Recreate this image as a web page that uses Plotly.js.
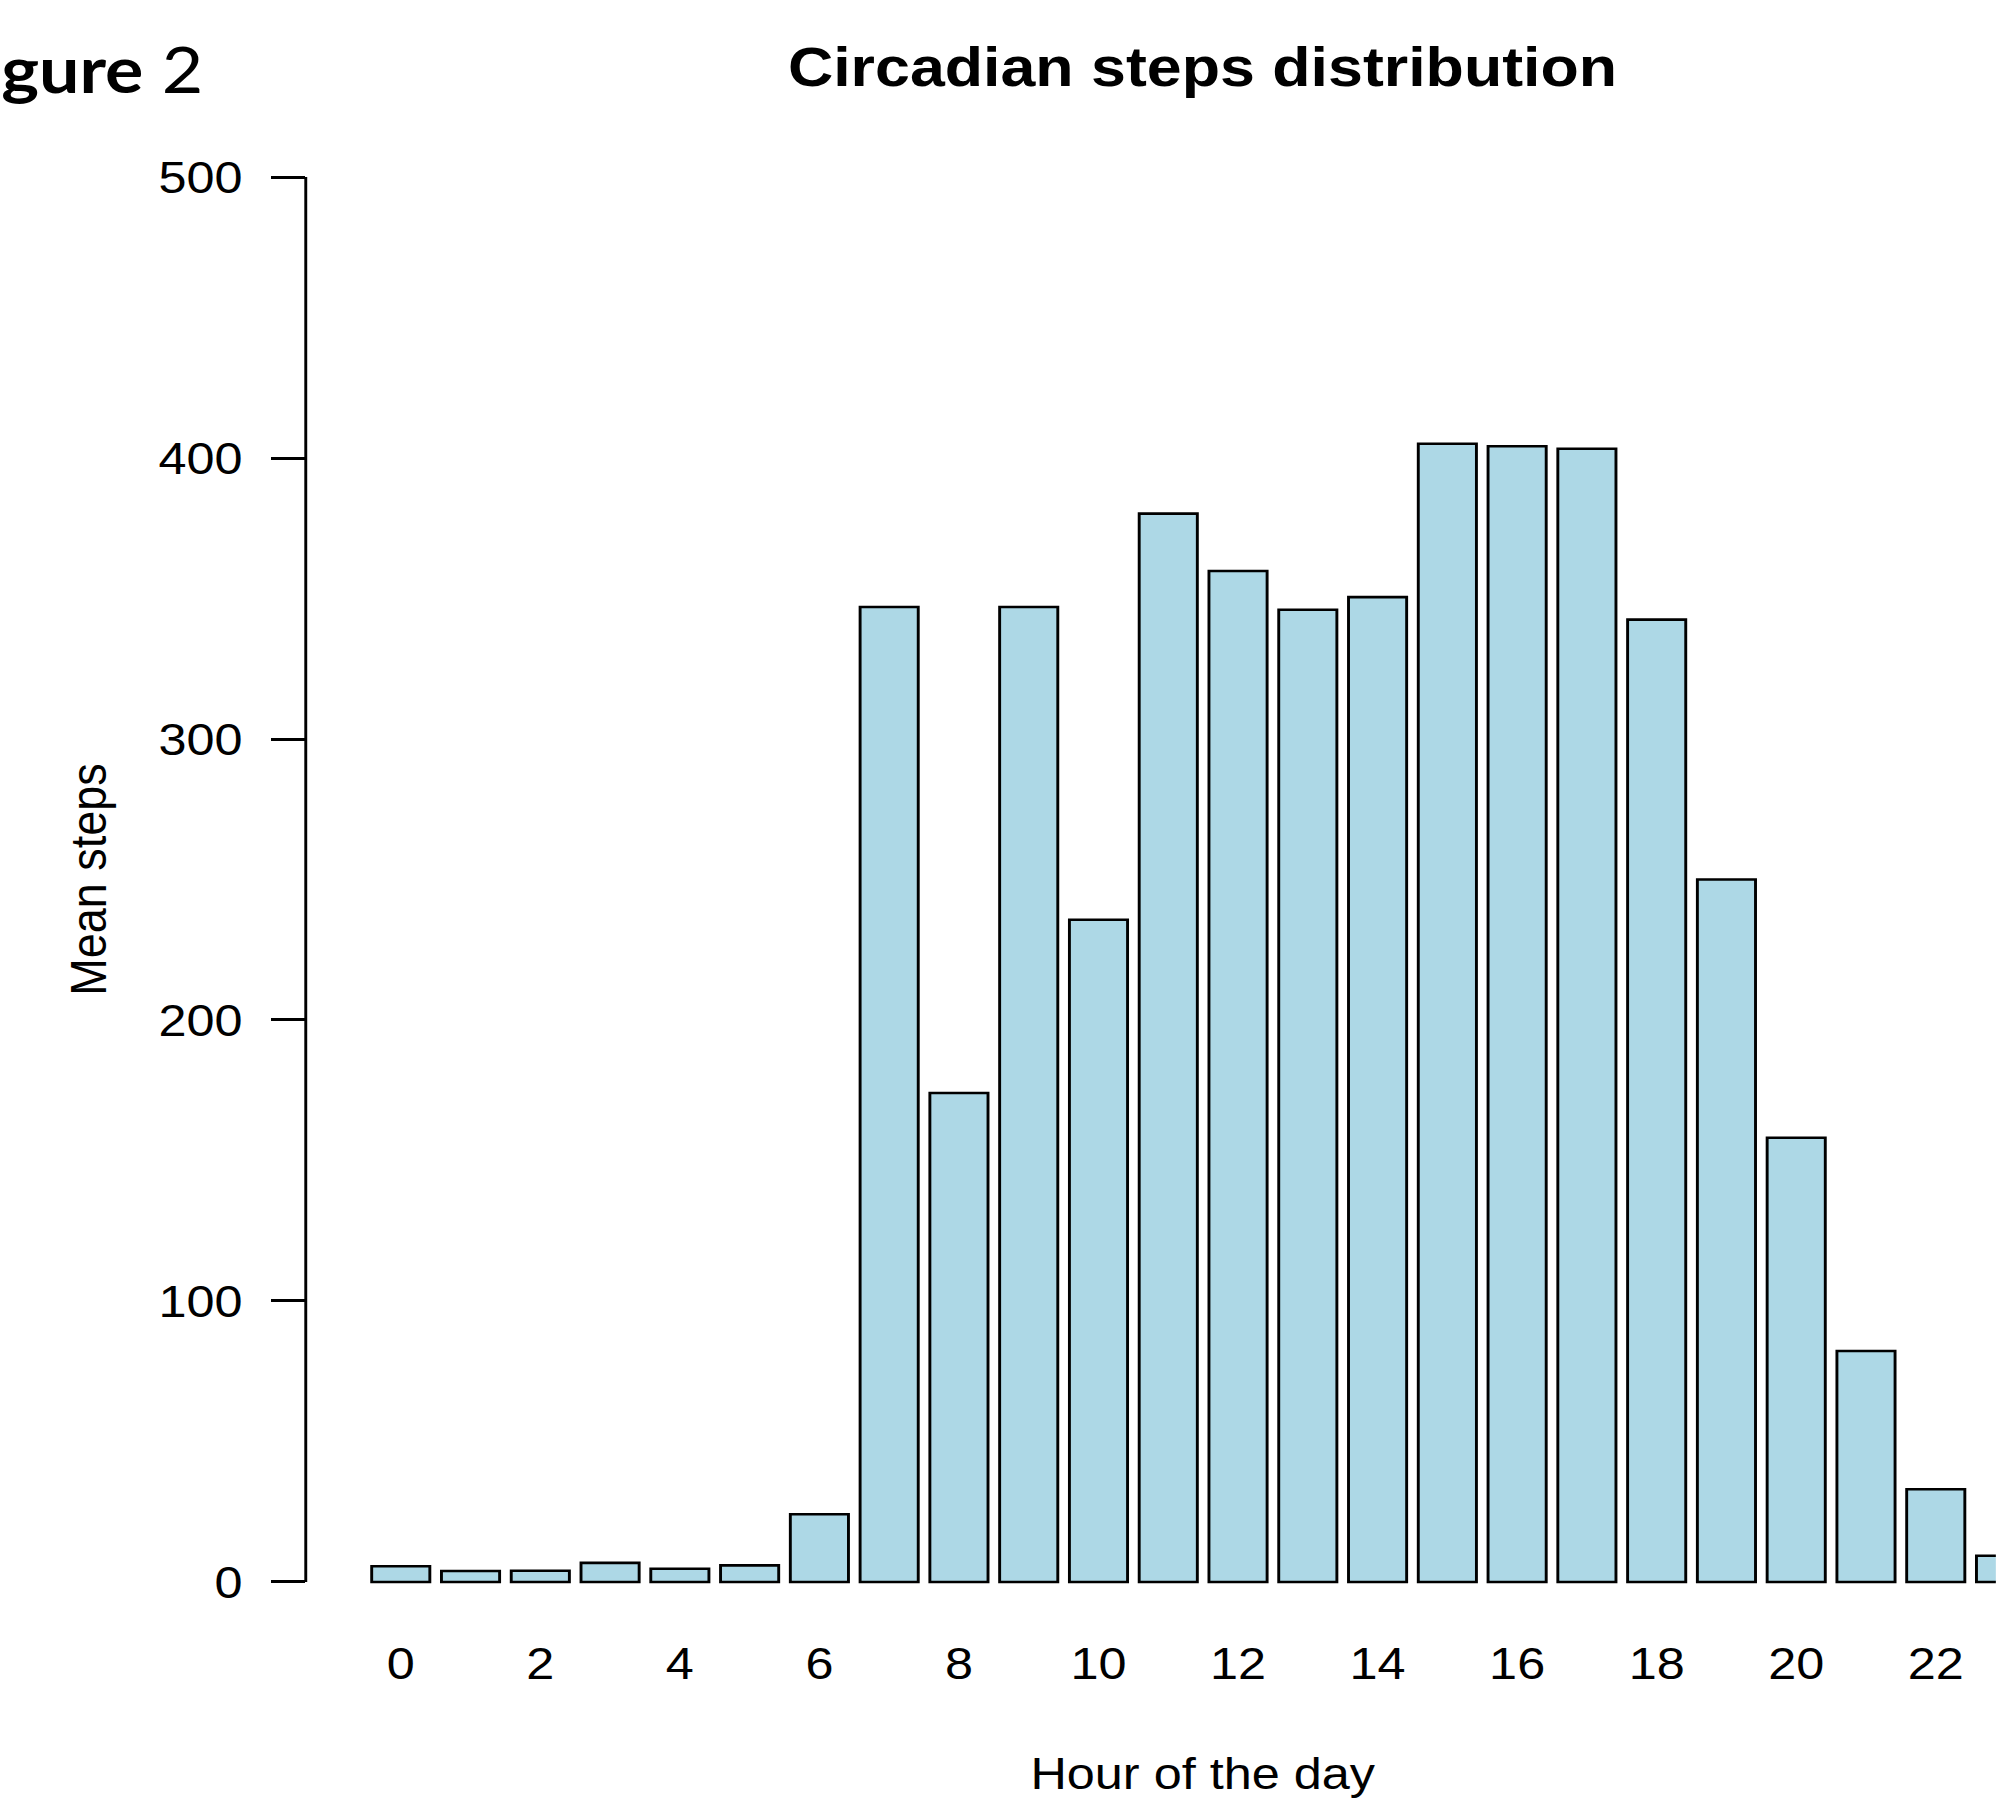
<!DOCTYPE html>
<html>
<head>
<meta charset="utf-8">
<script src="https://cdn.plot.ly/plotly-3.0.1.min.js"></script>
<style>
  html, body { margin: 0; padding: 0; background: #fff; overflow: hidden; }
  #chart { width: 1783px; height: 1799px; transform: scaleX(1.12); transform-origin: 0 0; }
</style>
</head>
<body>
<div id="chart"></div>
<script>
// ---- data ----
const hours = [0,1,2,3,4,5,6,7,8,9,10,11,12,13,14,15,16,17,18,19,20,21,22,23];
const meanSteps = [5.6, 3.9, 4.0, 6.8, 4.7, 5.9, 24.1, 347.0, 174.0, 347.0, 235.7, 380.2,
                   359.8, 346.0, 350.5, 405.1, 404.2, 403.3, 342.5, 250.0, 158.1, 82.2, 33.0, 9.3];
const xTickVals = [0,2,4,6,8,10,12,14,16,18,20,22];
const xTickText = ['0','2','4','6','8','10','12','14','16','18','20','22'];
const yTickVals = [0,100,200,300,400,500];
const yTickText = ['0','100','200','300','400','500'];

const FONT = '"Liberation Sans", Arial, Helvetica, sans-serif';

const trace = {
  type: 'bar',
  x: hours,
  y: meanSteps,
  marker: { color: '#ADD8E6', line: { color: '#000000', width: 2.6 } },
  hoverinfo: 'x+y'
};

const layout = {
  width: 1783,
  height: 1799,
  margin: { l: 273.2, r: 0.9, t: 162.65, b: 203.25, pad: 0 },
  paper_bgcolor: '#ffffff',
  plot_bgcolor: '#ffffff',
  showlegend: false,
  bargap: 1/6,
  font: { family: FONT, color: '#000000', size: 45 },
  title: {
    text: '<b>Circadian steps distribution</b>',
    font: { family: FONT, size: 56, color: '#000000' },
    xref: 'paper', x: 0.5306, xanchor: 'center',
    yref: 'container', y: 1 - 66/1799, yanchor: 'middle'
  },
  xaxis: {
    range: [-1.3616, 22.861],
    tickmode: 'array', tickvals: xTickVals, ticktext: xTickText,
    ticks: '', showgrid: false, zeroline: false, showline: false,
    tickfont: { family: FONT, size: 45, color: '#000000' },
    ticklabelstandoff: 37,
    fixedrange: true
  },
  yaxis: {
    range: [-5, 505],
    tickmode: 'array', tickvals: yTickVals, ticktext: yTickText,
    ticks: 'outside', ticklen: 30.4, tickwidth: 2.6, tickcolor: '#000000',
    showgrid: false, zeroline: false, showline: false,
    tickfont: { family: FONT, size: 45, color: '#000000' },
    ticklabelstandoff: 16,
    fixedrange: true
  },
  shapes: [
    { type: 'line', xref: 'paper', yref: 'y', x0: 0, x1: 0, y0: yTickVals[0], y1: yTickVals[yTickVals.length-1],
      line: { color: '#000000', width: 2.6 } }
  ],
  annotations: [
    { text: 'Hour of the day', xref: 'x', x: 11.5, yref: 'paper', y: (1595.75 - 1773) / 1433.1,
      xanchor: 'center', yanchor: 'middle', showarrow: false,
      font: { family: FONT, size: 45, color: '#000000' } },
    { text: 'Mean steps', xref: 'paper', x: (79.5 - 273.2) / 1508.9, yref: 'paper', y: 0.5,
      xanchor: 'center', yanchor: 'middle', textangle: -90, showarrow: false,
      font: { family: FONT, size: 45, color: '#000000' } },
    { text: '<b>gure</b> 2', xref: 'paper', x: (-1 - 273.2) / 1508.9, yref: 'paper', y: (1595.75 - 68) / 1433.1,
      xanchor: 'left', yanchor: 'middle', showarrow: false,
      font: { family: 'Lato, "Open Sans", sans-serif', size: 64, color: '#000000' } }
  ]
};

Plotly.newPlot('chart', [trace], layout, { displayModeBar: false, responsive: false });
</script>
</body>
</html>
